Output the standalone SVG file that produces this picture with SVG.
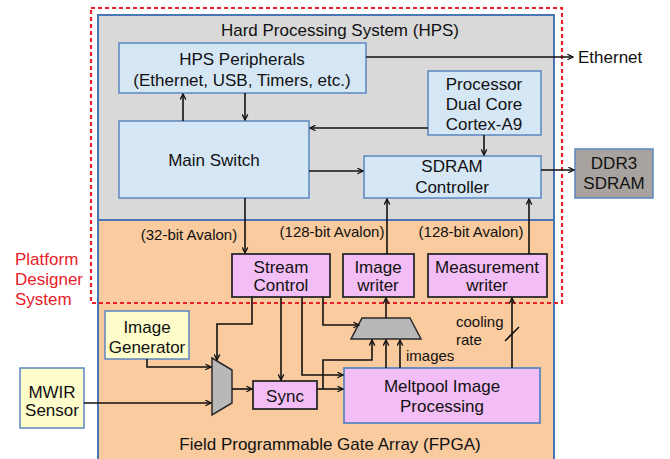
<svg xmlns="http://www.w3.org/2000/svg" width="670" height="459" viewBox="0 0 670 459">
  <style>
    text { font-family: "Liberation Sans", Arial, sans-serif; fill: #111; text-anchor: middle; }
    .t17 { font-size: 17px; }
    .t15 { font-size: 15px; }
    .red { fill: #e8202a; text-anchor: start; }
    .left { text-anchor: start; }
    .blue { fill: #d5e6f5; stroke: #5b87c0; stroke-width: 1.5; }
    .yellow { fill: #fefccb; stroke: #5b87c0; stroke-width: 1.5; }
    .pink { fill: #f3bdf5; stroke: #2a2a2a; stroke-width: 1.8; }
    .mux { fill: #b8b8b8; stroke: #2a2a2a; stroke-width: 1.5; }
    .wire { fill: none; stroke: #111; stroke-width: 1.6; }
  </style>
  <defs>
    <marker id="arrow" viewBox="0 0 10 10" refX="9" refY="5" markerWidth="7" markerHeight="7" orient="auto" markerUnits="userSpaceOnUse">
      <path d="M1,1 L9,5 L1,9" fill="none" stroke="#111" stroke-width="1.8"/>
    </marker>
  </defs>

  <rect width="670" height="459" fill="#ffffff"/>

  <!-- Hard Processing System region -->
  <g id="hps">
    <rect x="98" y="15" width="456" height="205" fill="#d9d9d9" stroke="#4a76b8" stroke-width="2"/>
    <text class="t17" x="340" y="36">Hard Processing System (HPS)</text>
  </g>

  <!-- FPGA region -->
  <g id="fpga">
    <rect x="98" y="220" width="456" height="240" fill="#f9cb9e" stroke="#4a76b8" stroke-width="2"/>
    <text class="t17" x="330" y="450">Field Programmable Gate Array (FPGA)</text>
  </g>

  <!-- Platform Designer boundary -->
  <g id="platform-designer">
    <rect x="91" y="8" width="471" height="295" fill="none" stroke="#e8202a" stroke-width="2.2" stroke-dasharray="4 3"/>
    <text class="t17 red" x="15" y="265">Platform</text>
    <text class="t17 red" x="15" y="285">Designer</text>
    <text class="t17 red" x="15" y="305">System</text>
  </g>

  <g id="hps-peripherals">
    <rect class="blue" x="119" y="43" width="247" height="50"/>
    <text class="t17" x="242" y="65">HPS Peripherals</text>
    <text class="t17" x="242" y="86">(Ethernet, USB, Timers, etc.)</text>
  </g>

  <g id="main-switch">
    <rect class="blue" x="119" y="121" width="190" height="77"/>
    <text class="t17" x="214" y="166">Main Switch</text>
  </g>

  <g id="processor">
    <rect class="blue" x="428" y="71" width="113" height="64"/>
    <text class="t17" x="484" y="90">Processor</text>
    <text class="t17" x="484" y="110">Dual Core</text>
    <text class="t17" x="484" y="130">Cortex-A9</text>
  </g>

  <g id="sdram-controller">
    <rect class="blue" x="364" y="156" width="177" height="42"/>
    <text class="t17" x="452" y="172">SDRAM</text>
    <text class="t17" x="452" y="193">Controller</text>
  </g>

  <g id="ddr3">
    <rect x="575" y="149" width="78" height="49" fill="#a8a39e" stroke="#5b87c0" stroke-width="1.5"/>
    <text class="t17" x="614" y="169">DDR3</text>
    <text class="t17" x="614" y="189">SDRAM</text>
  </g>

  <g id="ethernet-label">
    <text class="t17 left" x="578" y="63">Ethernet</text>
  </g>

  <g id="stream-control">
    <rect class="pink" x="232" y="254" width="98" height="43"/>
    <text class="t17" x="281" y="273">Stream</text>
    <text class="t17" x="281" y="291">Control</text>
  </g>

  <g id="image-writer">
    <rect class="pink" x="343" y="254" width="71" height="43"/>
    <text class="t17" x="378" y="273">Image</text>
    <text class="t17" x="378" y="291">writer</text>
  </g>

  <g id="measurement-writer">
    <rect class="pink" x="428" y="254" width="119" height="43"/>
    <text class="t17" x="487" y="273">Measurement</text>
    <text class="t17" x="487" y="291">writer</text>
  </g>

  <g id="image-generator">
    <rect class="yellow" x="105" y="311" width="84" height="48"/>
    <text class="t17" x="147" y="333">Image</text>
    <text class="t17" x="147" y="353">Generator</text>
  </g>

  <g id="mwir-sensor">
    <rect class="yellow" x="20" y="368" width="64" height="60"/>
    <text class="t17" x="52" y="398">MWIR</text>
    <text class="t17" x="52" y="416">Sensor</text>
  </g>

  <g id="input-mux">
    <polygon class="mux" points="212,358 232,370 232,403 212,415"/>
  </g>

  <g id="image-mux">
    <polygon class="mux" points="362,318 410,318 421,339 351,339"/>
  </g>

  <g id="sync">
    <rect class="pink" x="253" y="381" width="64" height="28"/>
    <text class="t17" x="285" y="402">Sync</text>
  </g>

  <g id="meltpool">
    <rect x="344" y="368" width="196" height="55" fill="#f3bdf5" stroke="#5b87c0" stroke-width="1.8"/>
    <text class="t17" x="442" y="392">Meltpool Image</text>
    <text class="t17" x="442" y="412">Processing</text>
  </g>

  <!-- connectors -->
  <g id="connectors" class="wire">
    <path d="M366,57 H573" marker-end="url(#arrow)"/>
    <path d="M183,121 V94" marker-end="url(#arrow)"/>
    <path d="M245,93 V120" marker-end="url(#arrow)"/>
    <path d="M428,128 H310" marker-end="url(#arrow)"/>
    <path d="M309,171 H363" marker-end="url(#arrow)"/>
    <path d="M484,135 V155" marker-end="url(#arrow)"/>
    <path d="M541,170 H574" marker-end="url(#arrow)"/>
    <path d="M245,198 V253" marker-end="url(#arrow)"/>
    <path d="M387,254 V199" marker-end="url(#arrow)"/>
    <path d="M529,254 V199" marker-end="url(#arrow)"/>
    <path d="M252,297 V324 H217 V360" marker-end="url(#arrow)"/>
    <path d="M281,297 V380" marker-end="url(#arrow)"/>
    <path d="M302,297 V375 H343" marker-end="url(#arrow)"/>
    <path d="M323,297 V325 H359" marker-end="url(#arrow)"/>
    <path d="M147,359 V367 H211" marker-end="url(#arrow)"/>
    <path d="M84,403 H211" marker-end="url(#arrow)"/>
    <path d="M232,389 H252" marker-end="url(#arrow)"/>
    <path d="M317,389 H343" marker-end="url(#arrow)"/>
    <path d="M323,389 V360 H372 V340" marker-end="url(#arrow)"/>
    <path d="M386,368 V340" marker-end="url(#arrow)"/>
    <path d="M400,368 V340" marker-end="url(#arrow)"/>
    <path d="M386,318 V298" marker-end="url(#arrow)"/>
    <path d="M512,368 V298" marker-end="url(#arrow)"/>
    <path d="M505,341 L519,327"/>
  </g>

  <!-- connector labels -->
  <g id="labels">
    <text class="t15" x="189" y="240">(32-bit Avalon)</text>
    <text class="t15" x="332" y="237">(128-bit Avalon)</text>
    <text class="t15" x="471" y="237">(128-bit Avalon)</text>
    <text class="t15 left" x="456" y="327">cooling</text>
    <text class="t15 left" x="456" y="345">rate</text>
    <text class="t15 left" x="406" y="361">images</text>
  </g>
</svg>
